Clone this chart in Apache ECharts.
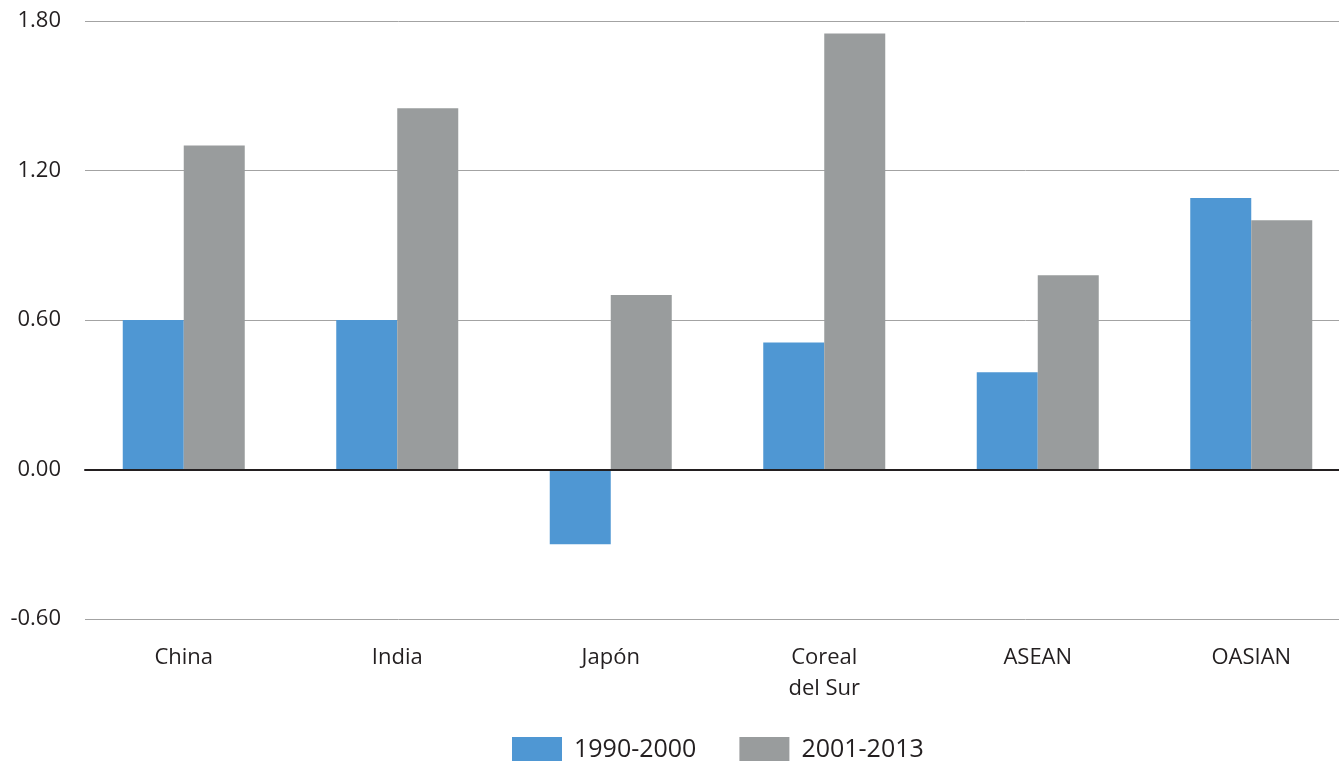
<!DOCTYPE html>
<html>
<head>
<meta charset="utf-8">
<script src="https://cdn.jsdelivr.net/npm/echarts@6/dist/echarts.min.js"></script>
<style>
  html, body { margin: 0; padding: 0; background: #fff; }
  #chart { width: 1339px; height: 761px; }
</style>
</head>
<body>
<div id="chart"></div>
<script>
// categorías y valores
const categories = ["China", "India", "Japón", "Coreal\ndel Sur", "ASEAN", "OASIAN"]
const serie1990 = [0.60, 0.60, -0.30, 0.51, 0.39, 1.09]
const serie2001 = [1.30, 1.45, 0.70, 1.75, 0.78, 1.00]
const yTicks = [-0.6, 0, 0.6, 1.2, 1.8]

const textColor = "#231f20"
const font = "'Open Sans', 'Noto Sans', sans-serif"

const mychart = echarts.init(document.getElementById("chart"), null, { renderer: "canvas" })

const option = {
  animation: false,
  color: ["#4f97d3", "#999c9d"],
  textStyle: { fontFamily: font, color: textColor },
  legend: {
    top: 737,
    left: 512,
    padding: 0,
    itemWidth: 50,
    itemHeight: 26,
    itemGap: 43,
    icon: "rect",
    textStyle: { fontSize: 25, color: textColor, padding: [0, 0, 0, 7] },
    data: ["1990-2000", "2001-2013"]
  },
  grid: [
    // rejilla para las líneas y etiquetas del eje y
    { left: 85, right: 0, top: 21, bottom: 142 },
    // rejilla para las barras (un poco más ancha que la de las líneas)
    { left: 77, width: 1281, top: 21, bottom: 142, outerBoundsMode: "none", containLabel: false }
  ],
  xAxis: [
    {
      type: "category",
      gridIndex: 0,
      data: categories,
      z: 5,
      axisLine: { show: true, onZero: true, lineStyle: { color: textColor, width: 2 } },
      axisTick: { show: false },
      axisLabel: { show: false }
    },
    {
      type: "category",
      gridIndex: 1,
      data: categories,
      axisLine: { show: false },
      axisTick: { show: false },
      axisLabel: {
        fontSize: 22,
        color: textColor,
        margin: 23,
        lineHeight: 31
      }
    }
  ],
  yAxis: [
    {
      type: "value",
      gridIndex: 0,
      min: yTicks[0],
      max: yTicks[yTicks.length - 1],
      interval: 0.6,
      axisLine: { show: false },
      axisTick: { show: false },
      splitLine: { lineStyle: { color: "#a3a3a3", width: 1 } },
      axisLabel: {
        fontSize: 22,
        color: textColor,
        margin: 24,
        formatter: v => v.toFixed(2)
      }
    },
    {
      type: "value",
      gridIndex: 1,
      min: yTicks[0],
      max: yTicks[yTicks.length - 1],
      interval: 0.6,
      show: false,
      splitLine: { show: false }
    }
  ],
  series: [
    {
      name: "1990-2000",
      type: "bar",
      xAxisIndex: 1,
      yAxisIndex: 1,
      barWidth: 61,
      barGap: "0%",
      data: serie1990
    },
    {
      name: "2001-2013",
      type: "bar",
      xAxisIndex: 1,
      yAxisIndex: 1,
      barWidth: 61,
      barGap: "0%",
      data: serie2001
    }
  ]
}
mychart.setOption(option)
</script>
</body>
</html>
